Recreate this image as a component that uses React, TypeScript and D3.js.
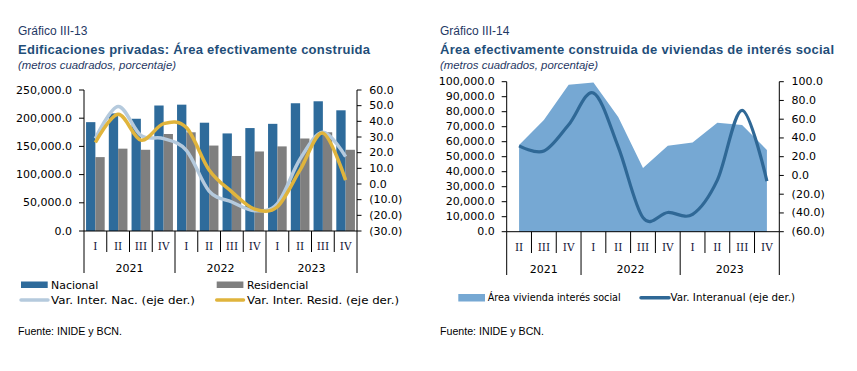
import * as d3 from "d3";

// ---- data ----
const periodsLeft = ["2021 I", "2021 II", "2021 III", "2021 IV", "2022 I", "2022 II", "2022 III", "2022 IV", "2023 I", "2023 II", "2023 III", "2023 IV"];
const nacional = [193000, 208500, 199000, 222500, 224000, 192000, 173000, 182500, 190000, 226500, 230000, 214000];
const residencial = [131000, 146000, 144000, 172000, 175000, 151500, 133000, 141000, 150000, 164000, 175000, 144000];
const varNac = [29, 49.5, 31, 29, 21.5, -4.5, -11.5, -17, -12.5, 16, 33, 17.5];
const varRes = [26.5, 44.5, 28, 38.5, 36, 9, -5, -16, -14.5, 9, 32.5, 2.5];

const periodsRight = ["2021 II", "2021 III", "2021 IV", "2022 I", "2022 II", "2022 III", "2022 IV", "2023 I", "2023 II", "2023 III", "2023 IV"];
const areaSocial = [57800, 74500, 98000, 99500, 76500, 42500, 57300, 59500, 72700, 71200, 54500];
const varInter = [31.5, 26, 54, 88, 30.5, -45, -39.5, -41.5, -5, 69.5, -6];

const leftTicksL = [0, 50000, 100000, 150000, 200000, 250000];
const rightTicksL = [-30, -20, -10, 0, 10, 20, 30, 40, 50, 60];
const leftTicksR = [0, 10000, 20000, 30000, 40000, 50000, 60000, 70000, 80000, 90000, 100000];
const rightTicksR = [-60, -40, -20, 0, 20, 40, 60, 80, 100];

const BLUE = "#2e6b9b";
const GRAY = "#7f7f7f";
const LIGHT = "#b5cadd";
const YELLOW = "#e0b43c";
const AREA = "#76a8d3";
const DARK = "#2f6896";
const NAVY = "#1f3864";
const TITLE = "#1f4e79";
const TICK_FONT = "'DejaVu Sans', Verdana, sans-serif";
const ARIAL = "'Liberation Sans', Arial, sans-serif";

const fmtL = d3.format(",.1f");
const fmtR = (v: number) => (v < 0 ? `(${d3.format(".1f")(-v)})` : d3.format(".1f")(v));

// splits "2021 II" into year groups with index ranges
function yearGroups(periods: string[]) {
  const groups: { year: string; start: number; end: number }[] = [];
  periods.forEach((p, i) => {
    const y = p.split(" ")[0];
    const last = groups[groups.length - 1];
    if (last && last.year === y) last.end = i;
    else groups.push({ year: y, start: i, end: i });
  });
  return groups;
}

function Header({ x, num, title, titleLen }: { x: number; num: string; title: string; titleLen: number }) {
  return (
    <g>
      <text x={x} y={31} dominantBaseline="central" fontFamily={ARIAL} fontSize={12} fill={NAVY}>{num}</text>
      <text x={x} y={49} dominantBaseline="central" fontFamily={ARIAL} fontSize={13} fontWeight="bold" fill={TITLE}
        textLength={titleLen} lengthAdjust="spacing">{title}</text>
      <text x={x} y={65} dominantBaseline="central" fontFamily={ARIAL} fontSize={11} fontStyle="italic" fill={NAVY}
        textLength={158} lengthAdjust="spacingAndGlyphs">(metros cuadrados, porcentaje)</text>
      <text x={x} y={331} dominantBaseline="central" fontFamily={ARIAL} fontSize={11} fill="#000"
        textLength={104} lengthAdjust="spacingAndGlyphs">Fuente: INIDE y BCN.</text>
    </g>
  );
}

function LegendText({ x, y, len, children }: { x: number; y: number; len: number; children: string }) {
  return (
    <text x={x} y={y} dominantBaseline="central" fontFamily={TICK_FONT} fontSize={11} fill="#000"
      textLength={len} lengthAdjust="spacingAndGlyphs">{children}</text>
  );
}

function CategoryAxis({ x, periods, y0, qY, yrY, qEnd, yrEnd }: {
  x: d3.ScaleBand<string>; periods: string[]; y0: number; qY: number; yrY: number; qEnd: number; yrEnd: number;
}) {
  const [r0, r1] = x.range();
  const groups = yearGroups(periods);
  const bw = x.bandwidth();
  return (
    <g>
      <line x1={r0} x2={r1} y1={y0} y2={y0} stroke="#000" />
      {periods.map((p, i) => {
        const xl = x(p)!;
        const isYearStart = groups.some((g) => g.start === i);
        return <line key={"s" + i} x1={xl} x2={xl} y1={y0} y2={isYearStart ? yrEnd : qEnd} stroke="#000" />;
      })}
      <line x1={r1} x2={r1} y1={y0} y2={yrEnd} stroke="#000" />
      {periods.map((p) => (
        <text key={"q" + p} x={x(p)! + bw / 2} y={qY} textAnchor="middle" dominantBaseline="central"
          fontFamily="'DejaVu Serif', serif" fontSize={10.5} fill="#141438">{p.split(" ")[1]}</text>
      ))}
      {groups.map((g) => (
        <text key={g.year} x={(x(periods[g.start])! + x(periods[g.end])! + bw) / 2} y={yrY} textAnchor="middle"
          dominantBaseline="central" fontFamily={TICK_FONT} fontSize={11} fill="#000">{g.year}</text>
      ))}
    </g>
  );
}

function ValueAxis({ scale, ticks, xAxis, side, fmt }: {
  scale: d3.ScaleLinear<number, number>; ticks: number[]; xAxis: number; side: "left" | "right"; fmt: (v: number) => string;
}) {
  const [d0, d1] = scale.domain();
  const dir = side === "left" ? -1 : 1;
  const tickLen = side === "left" ? 5 : 4.5;
  const gap = side === "left" ? 12 : 12.3;
  return (
    <g>
      <line x1={xAxis} x2={xAxis} y1={scale(d0)} y2={scale(d1)} stroke="#000" />
      {ticks.map((t) => (
        <g key={t}>
          <line x1={xAxis} x2={xAxis + dir * tickLen} y1={scale(t)} y2={scale(t)} stroke="#000" />
          <text x={xAxis + dir * gap} y={scale(t)} textAnchor={side === "left" ? "end" : "start"} dominantBaseline="central"
            fontFamily={TICK_FONT} fontSize={11} fill="#000">{fmt(t)}</text>
        </g>
      ))}
    </g>
  );
}

function LeftChart() {
  const x = d3.scaleBand<string>().domain(periodsLeft).range([84, 357]).padding(0);
  const inner = d3.scaleBand<string>().domain(["n", "r"]).range([0, x.bandwidth()]).paddingInner(0).paddingOuter(0.22);
  const yL = d3.scaleLinear().domain([0, 250000]).range([231, 90]);
  const yR = d3.scaleLinear().domain([-30, 60]).range([231, 90]);
  const cx = (i: number) => x(periodsLeft[i])! + x.bandwidth() / 2;
  const line = d3.line<number>().x((_, i) => cx(i)).y((d) => yR(d)).curve(d3.curveCardinal.tension(0));

  return (
    <g>
      <Header x={18} num="Gráfico III-13" title="Edificaciones privadas: Área efectivamente construida" titleLen={352} />
      {periodsLeft.map((p, i) => (
        <g key={p}>
          <rect x={x(p)! + inner("n")!} width={inner.bandwidth()} y={yL(nacional[i])} height={yL(0) - yL(nacional[i])} fill={BLUE} />
          <rect x={x(p)! + inner("r")!} width={inner.bandwidth()} y={yL(residencial[i])} height={yL(0) - yL(residencial[i])} fill={GRAY} />
        </g>
      ))}
      <path d={line(varNac)!} fill="none" stroke={LIGHT} strokeWidth={3.5} />
      <path d={line(varRes)!} fill="none" stroke={YELLOW} strokeWidth={3.5} />
      <ValueAxis scale={yL} ticks={leftTicksL} xAxis={84} side="left" fmt={fmtL} />
      <ValueAxis scale={yR} ticks={rightTicksL} xAxis={357} side="right" fmt={fmtR} />
      <CategoryAxis x={x} periods={periodsLeft} y0={231} qY={246} yrY={268} qEnd={252} yrEnd={273} />

      <rect x={21} y={281.5} width={26.7} height={6.5} fill={BLUE} />
      <LegendText x={51} y={285} len={47.3}>Nacional</LegendText>
      <rect x={216.7} y={281.5} width={26.7} height={6.5} fill={GRAY} />
      <LegendText x={247} y={285} len={61.3}>Residencial</LegendText>
      <line x1={21} x2={48} y1={300} y2={300} stroke={LIGHT} strokeWidth={3.5} strokeLinecap="round" />
      <LegendText x={51} y={300} len={144}>Var. Inter. Nac. (eje der.)</LegendText>
      <line x1={216.7} x2={243.5} y1={300} y2={300} stroke={YELLOW} strokeWidth={3.5} strokeLinecap="round" />
      <LegendText x={247} y={300} len={152}>Var. Inter. Resid. (eje der.)</LegendText>
    </g>
  );
}

function RightChart() {
  const x = d3.scaleBand<string>().domain(periodsRight).range([506.7, 779.3]).padding(0);
  const yL = d3.scaleLinear().domain([0, 100000]).range([231.7, 81.7]);
  const yR = d3.scaleLinear().domain([-60, 100]).range([231.7, 81.7]);
  const cx = (i: number) => x(periodsRight[i])! + x.bandwidth() / 2;
  const area = d3.area<number>().x((_, i) => cx(i)).y0(yL(0)).y1((d) => yL(d));
  const line = d3.line<number>().x((_, i) => cx(i)).y((d) => yR(d)).curve(d3.curveCardinal.tension(0));

  return (
    <g>
      <Header x={440} num="Gráfico III-14" title="Área efectivamente construida de viviendas de interés social" titleLen={394} />
      <path d={area(areaSocial)!} fill={AREA} />
      <path d={line(varInter)!} fill="none" stroke={DARK} strokeWidth={3.2} />
      <ValueAxis scale={yL} ticks={leftTicksR} xAxis={506.7} side="left" fmt={fmtL} />
      <ValueAxis scale={yR} ticks={rightTicksR} xAxis={779.3} side="right" fmt={fmtR} />
      <CategoryAxis x={x} periods={periodsRight} y0={231.7} qY={247} yrY={269} qEnd={253} yrEnd={275} />

      <rect x={458.3} y={294} width={26.7} height={7.5} fill={AREA} />
      <LegendText x={487.7} y={297.7} len={133}>Área vivienda interés social</LegendText>
      <line x1={641} x2={669} y1={297.7} y2={297.7} stroke={DARK} strokeWidth={3.5} strokeLinecap="round" />
      <LegendText x={670.5} y={297.7} len={124.5}>Var. Interanual (eje der.)</LegendText>
    </g>
  );
}

export default function App() {
  return (
    <svg width={857} height={371} style={{ position: "absolute", left: 0, top: 0, background: "#fff" }}>
      <rect width={857} height={371} fill="#fff" />
      <LeftChart />
      <RightChart />
    </svg>
  );
}
